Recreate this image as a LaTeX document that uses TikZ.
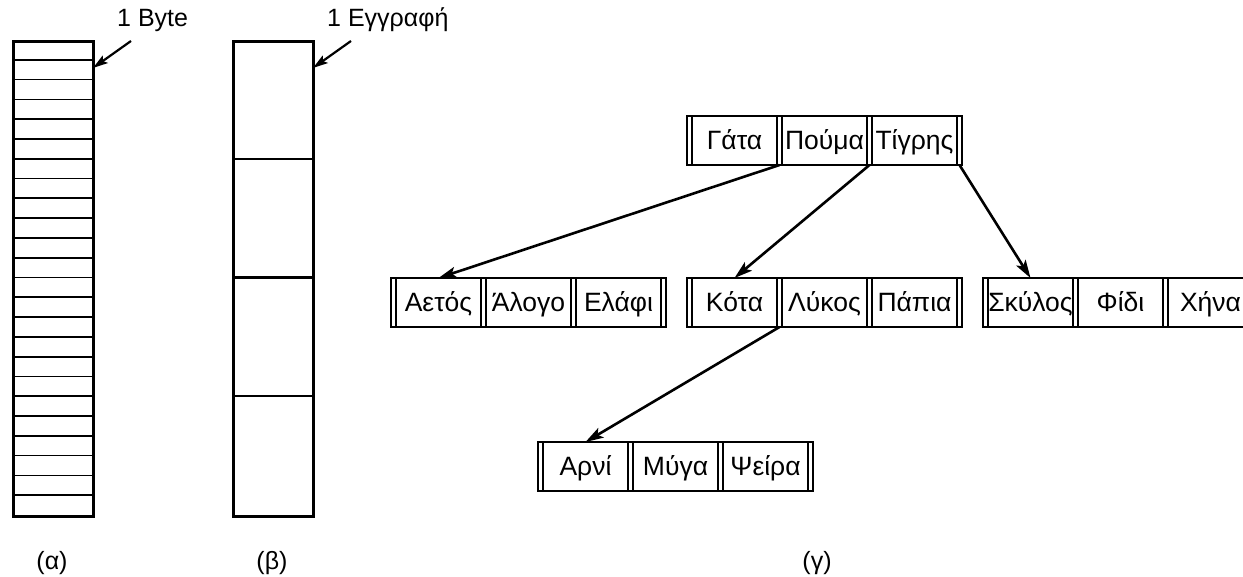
\documentclass[tikz,border=0pt]{standalone}
\usepackage{fontspec}
\setmainfont{Liberation Sans}
\usetikzlibrary{arrows.meta}
\tikzset{
  lbl/.style={font=\fontsize{25}{29}\selectfont, inner sep=0pt},
  strip/.style={draw, line width=1.9pt, minimum width=5pt, minimum height=49pt, inner sep=0pt, outer sep=0pt, anchor=west},
  key/.style={draw, line width=1.9pt, minimum width=85pt, minimum height=49pt, inner sep=0pt, outer sep=0pt, anchor=west,
    font=\fontsize{26.5}{30}\selectfont, text height=17.5pt, text depth=0pt},
  outerbox/.style={line width=2.8pt},
  col/.style={line width=3pt},
  cell/.style={line width=1.7pt},
  ptr/.style={line width=2.6pt, -{Stealth[length=18pt,width=11pt,inset=4pt]}},
  lptr/.style={line width=2.2pt, -{Stealth[length=15pt,width=9pt,inset=3pt]}},
}
\newcommand{\btn}[6]{%
  \node[strip] (#1-p0) at (#2,#3) {};
  \node[key] (#1-k1) at (#1-p0.east) {#4};
  \node[strip] (#1-p1) at (#1-k1.east) {};
  \node[key] (#1-k2) at (#1-p1.east) {#5};
  \node[strip] (#1-p2) at (#1-k2.east) {};
  \node[key] (#1-k3) at (#1-p2.east) {#6};
  \node[strip] (#1-p3) at (#1-k3.east) {};
  \draw[outerbox] (#1-p0.north west) rectangle (#1-p3.south east);
}
\begin{document}
\begin{tikzpicture}[x=1pt,y=-1pt]
\useasboundingbox (0,0) rectangle (1243,577);

% (a) column of bytes
\foreach \k in {1,...,23} {
  \draw[cell] (12,{40+\k*475/24}) -- (92,{40+\k*475/24});
}
\node[draw, col, minimum width=80pt, minimum height=475pt, inner sep=0pt, anchor=north west] (colA) at (12,40) {};
\node[lbl, anchor=base west] (byteLbl) at (117,27) {1 Byte};
\coordinate (byteStart) at (131,41);
\coordinate (byteTip) at (93,68);
\draw[lptr] (byteStart) -- (byteTip);
\node[lbl, anchor=base] (labA) at (52,569) {(α)};

% (b) column of records
\foreach \k in {1,2,3} {
  \draw[line width=2.2pt] (232,{40+\k*475/4}) -- (312,{40+\k*475/4});
}
\node[draw, col, minimum width=80pt, minimum height=475pt, inner sep=0pt, anchor=north west] (colB) at (232,40) {};
\node[lbl, anchor=base west] (recLbl) at (327,27) {1 Εγγραφή};
\coordinate (recStart) at (351,41);
\coordinate (recTip) at (313,68);
\draw[lptr] (recStart) -- (recTip);
\node[lbl, anchor=base] (labB) at (272,569) {(β)};

% (c) tree
\btn{T}{687}{140.5}{Γάτα}{Πούμα}{Τίγρης}
\btn{A}{391}{302.5}{Αετός}{Άλογο}{Ελάφι}
\btn{M}{687}{302.5}{Κότα}{Λύκος}{Πάπια}
\btn{R}{983}{302.5}{Σκύλος}{Φίδι}{Χήνα}
\btn{L}{538}{466.5}{Αρνί}{Μύγα}{Ψείρα}

\draw[ptr] (T-p1.south) -- (A-k1.north);
\draw[ptr] (T-p2.south) -- (M-k1.north);
\draw[ptr] (T-p3.south) -- (R-k1.north);
\draw[ptr] (M-p1.south) -- (L-k1.north);

\node[lbl, anchor=base] (labC) at (817,569) {(γ)};
\end{tikzpicture}
\end{document}
